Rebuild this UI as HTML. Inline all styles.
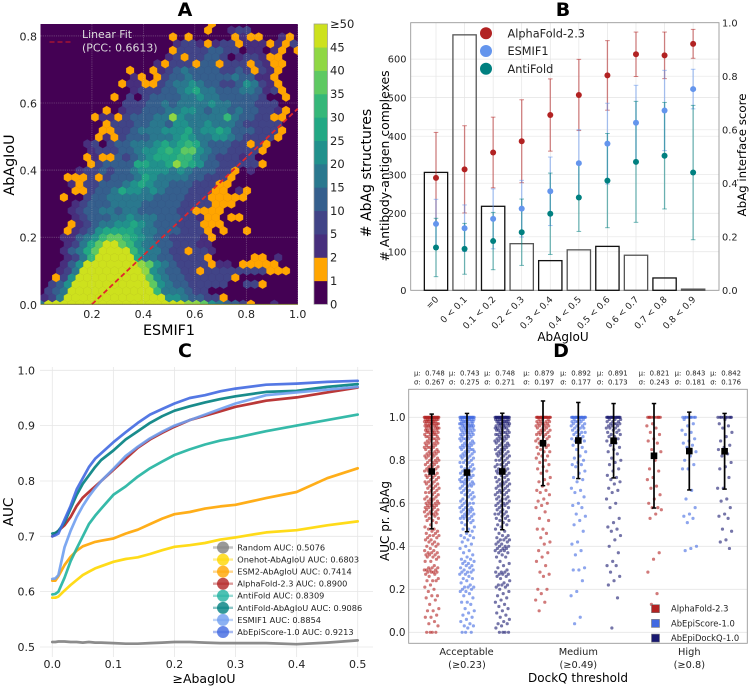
<!DOCTYPE html>
<html lang="en"><head><meta charset="utf-8"><title>Four panel AbAg chart figure</title>
<style>
html,body{margin:0;padding:0;background:#fff;}
svg{display:block;font-family:"DejaVu Sans","Liberation Sans",sans-serif;filter:blur(0.3px);}
.pre{white-space:pre;}
</style></head>
<body>
<svg id="fig" xmlns="http://www.w3.org/2000/svg" width="750" height="687" viewBox="0 0 750 687">
<defs><clipPath id="clipA"><rect x="40.5" y="24" width="257.5" height="280.3"/></clipPath></defs>
<rect x="0" y="0" width="750" height="687" fill="#fff"/>
<g id="panelA"></g>
<g id="panelB"></g>
<g id="panelC"></g>
<g id="panelD"></g>
<text x="185" y="16" font-size="19" font-weight="bold" text-anchor="middle">A</text>
<text x="563" y="16" font-size="19" font-weight="bold" text-anchor="middle">B</text>
<text x="185" y="357" font-size="19" font-weight="bold" text-anchor="middle">C</text>
<text x="561" y="357" font-size="19" font-weight="bold" text-anchor="middle">D</text>
<text x="169" y="335" font-size="14.3" text-anchor="middle">ESMIF1</text>
<text transform="translate(14,165) rotate(-90)" font-size="14.3" text-anchor="middle">AbAgIoU</text>
<text transform="translate(371,173) rotate(-90)" font-size="14" text-anchor="middle"># AbAg structures</text>
<text x="563" y="341" font-size="12" text-anchor="middle">AbAgIoU</text>
<text transform="translate(389,166) rotate(-90)" font-size="12.4" text-anchor="middle"># Antibody-antigen complexes</text>
<text transform="translate(746,155) rotate(-90)" font-size="11.8" text-anchor="middle">AbAg interface score</text>
<text x="204" y="683" font-size="12.5" text-anchor="middle">≥AbagIoU</text>
<text transform="translate(13,512) rotate(-90)" font-size="13.5" text-anchor="middle">AUC</text>
<text x="578" y="682" font-size="12" text-anchor="middle">DockQ threshold</text>
<text transform="translate(389,521) rotate(-90)" font-size="12" text-anchor="middle">AUC pr. AbAg</text>
</svg>
<script>
/* ---------- Panel A data ---------- */
const aXTicks = [0.2, 0.4, 0.6, 0.8, 1.0];
const aYTicks = [0.0, 0.2, 0.4, 0.6, 0.8];
const fitX = [0.2, 1.0];
const fitY = [0.0, 0.583];
const colorbarLabels = ['0','1','2','5','10','15','20','25','30','35','40','45','≥50'];
const colorbarEdges = [1,2,5,10,15,20,25,30,35,40,45];
const hexPalette = ['#440154','#ffa500','#472f7d','#414487','#355f8d','#2a788e','#21918c','#22a884','#35b779','#5ec962','#8fd744','#cde11d'];
/* hex counts: first row is the bottom row of the hexbin (AbAgIoU = 0) */
const hexCounts = [
[17,60,60,60,60,60,60,60,60,60,60,60,60,60,60,60,60,60,60,42,42,37,22,17,12,12,7,1,0,0,3],
[3,7,17,60,60,60,60,60,60,60,60,60,60,60,60,60,22,22,17,12,12,7,7,1],
[0,7,12,17,60,60,60,60,60,60,60,60,60,60,60,32,17,17,17,12,7,7,0,0],
[0,7,12,22,60,60,60,60,60,60,60,60,60,60,37,22,17,12,12,7,7,7,7,7,0,0,7,7,1],
[0,0,1,7,22,60,60,60,60,60,60,60,60,60,37,22,17,12,12,7,7,7,7,7,7,1,0,0],
[0,0,3,7,17,60,60,60,60,60,60,60,60,42,22,17,12,12,7,7,1,7,7,7,7,7,7,7,7,1,1,1],
[0,0,0,3,12,22,60,60,60,60,60,60,60,42,37,22,17,12,7,7,7,7,1,3,3,0,1,1,1,1,1],
[0,0,0,3,7,17,32,60,60,60,60,60,27,17,17,12,12,7,7,7,7,1,0,0,0,0,0,1,1,0,3],
[0,0,0,3,12,17,27,37,60,60,60,60,32,22,17,17,12,7,7,1,7,7,3],
[0,0,0,3,7,17,27,37,60,60,37,32,22,17,17,12,12,7,7,7,3,3],
[0,0,0,3,3,12,17,22,32,37,37,32,27,22,17,12,12,7,7,7,7,3,1],
[0,0,0,1,3,7,12,22,27,27,27,27,22,17,17,12,12,12,7,7,7,1,0,1,0,0,1],
[0,0,0,0,1,3,7,12,17,17,22,22,27,22,17,12,12,12,7,7,7,1,1,1],
[0,0,0,0,3,7,12,12,12,17,17,22,17,17,17,12,12,12,7,7,3,1,1,0,1,1],
[0,0,0,0,3,7,12,12,17,17,12,17,17,12,12,12,12,12,7,7,1,1,1,1],
[0,0,0,0,3,7,12,12,12,17,17,17,17,12,12,12,12,12,7,7,7,7,1,1,1],
[0,0,0,1,0,0,7,12,12,17,17,17,17,17,17,12,12,12,12,7,7,7,1,1,1,1,1],
[0,0,0,0,1,1,7,12,12,17,27,22,22,17,22,17,12,12,12,7,7,7,1,1,0,3,1],
[0,0,0,0,3,1,7,7,12,12,12,17,22,27,22,17,17,12,12,12,7,7,7,1,1],
[0,0,0,1,1,1,7,1,7,12,12,12,17,27,22,17,17,17,17,12,12,7,7,7,1,0],
[0,0,0,0,0,3,7,7,12,7,12,12,17,22,22,22,22,17,22,17,12,12,12,7,7,1,0,3],
[0,0,0,0,0,0,1,7,12,12,12,12,27,27,22,22,27,42,32,27,22,12,12,7,7,7,7,7,1],
[0,0,0,0,0,0,1,3,1,1,12,7,12,17,22,27,27,27,32,32,22,17,12,7,7,7,3,7],
[0,0,0,0,0,0,3,7,7,7,12,12,17,22,22,27,32,27,37,37,22,17,12,12,7,7,7,7,1],
[0,0,0,0,0,0,3,7,0,7,12,12,17,17,17,22,27,22,27,32,27,17,12,12,12,7,7,1,7,1],
[0,0,0,0,0,0,0,1,3,1,7,12,12,12,17,17,17,22,27,22,17,17,22,22,17,12,7,7,7,7,1],
[0,0,0,0,0,0,0,0,1,1,7,7,12,17,17,17,22,22,22,27,17,22,22,27,22,12,12,12,7,7,7,1],
[0,0,0,0,0,0,0,0,1,7,7,7,12,12,17,17,12,22,22,17,17,22,17,17,17,12,7,7,7,7,7],
[0,0,0,0,0,0,0,1,3,3,1,7,12,12,12,17,17,42,22,17,17,17,17,17,32,17,12,12,7,7,1,1],
[0,0,0,0,0,0,0,0,1,0,3,7,7,12,12,12,17,17,22,22,17,12,17,17,12,17,12,12,7,7,3,1],
[0,0,0,0,0,0,0,0,0,0,0,7,7,7,12,12,17,12,17,17,17,17,22,17,17,12,12,12,7,7,7],
[0,0,0,0,0,0,0,0,0,1,0,7,0,7,12,12,12,12,17,17,22,17,17,12,12,12,12,12,7,0,0,1],
[0,0,0,0,0,0,0,0,0,0,0,0,3,7,7,7,12,12,17,22,27,17,17,12,12,12,17,17,12,3,7,1],
[0,0,0,0,0,0,0,0,0,0,1,3,3,1,1,7,12,17,17,22,17,12,12,7,7,12,22,17,7,3,1],
[0,0,0,0,0,0,0,0,0,0,0,0,3,1,0,1,7,12,12,17,12,12,12,12,12,17,12,12,3,3,1],
[0,0,0,0,0,0,0,0,0,0,0,1,0,0,1,3,7,12,17,12,12,12,12,7,7,12,7,1,7,3,1],
[0,0,0,0,0,0,0,0,0,0,0,0,0,0,0,3,1,7,7,7,1,12,12,1,7,7,7,1,7,3,1,1],
[0,0,0,0,0,0,0,0,0,0,0,0,0,0,0,0,3,7,1,7,7,12,12,7,0,3,7,7,3,1,1],
[0,0,0,0,0,0,0,0,0,0,0,0,0,0,0,0,0,1,7,7,7,7,12,12,7,7,0,3,3,0,3,1,0,1],
[0,0,0,0,0,0,0,0,0,0,0,0,0,0,0,0,0,3,7,7,3,1,3,7,7,1,3,3,3,1,3,1,7],
[0,0,0,0,0,0,0,0,0,0,0,0,0,0,0,0,0,1,0,1,0,0,0,0,0,1,3,1,1,0,0,3,1],
[0,0,0,0,0,0,0,0,0,0,0,0,0,0,0,0,0,0,0,0,0,1,0,0,3,7,7],
[0,0,0,0,0,0,0,0,0,0,0,0,0,0,0,0,0,0,0,0,0,0,1]
];

/* ---------- Panel B data ---------- */
const iouBins = ['=0','0 < 0.1','0.1 < 0.2','0.2 < 0.3','0.3 < 0.4','0.4 < 0.5','0.5 < 0.6','0.6 < 0.7','0.7 < 0.8','0.8 < 0.9'];
const complexCounts = [306,663,218,121,77,105,114,91,32,3];
const afScore = [0.42,0.452,0.515,0.557,0.655,0.73,0.803,0.882,0.878,0.921];
const afErr = [0.17,0.163,0.132,0.155,0.135,0.133,0.13,0.083,0.087,0.054];
const esmScore = [0.248,0.232,0.267,0.305,0.37,0.475,0.548,0.626,0.672,0.752];
const esmErr = [0.092,0.087,0.112,0.106,0.128,0.125,0.151,0.14,0.15,0.074];
const antiScore = [0.16,0.155,0.184,0.217,0.286,0.347,0.41,0.48,0.503,0.44];
const antiErr = [0.109,0.095,0.107,0.124,0.152,0.127,0.176,0.226,0.199,0.251];
const bLeftTicks = [0,100,200,300,400,500,600];
const bRightTicks = [0.0,0.2,0.4,0.6,0.8,1.0];
const bLegendLabels = ['AlphaFold-2.3','ESMIF1','AntiFold'];

/* ---------- Panel C data ---------- */
const thresholds = [0,0.005,0.01,0.02,0.03,0.04,0.05,0.06,0.07,0.08,0.1,0.12,0.14,0.16,0.18,0.2,0.225,0.25,0.275,0.3,0.35,0.4,0.45,0.5];
const aucRandom   = [0.509,0.509,0.51,0.51,0.509,0.509,0.508,0.509,0.508,0.508,0.507,0.506,0.506,0.507,0.508,0.509,0.509,0.508,0.507,0.507,0.507,0.505,0.508,0.512];
const aucOnehot   = [0.589,0.589,0.591,0.602,0.612,0.621,0.63,0.636,0.642,0.646,0.654,0.659,0.662,0.668,0.675,0.681,0.684,0.688,0.694,0.698,0.707,0.711,0.72,0.727];
const aucEsm2     = [0.62,0.62,0.628,0.648,0.663,0.674,0.682,0.686,0.69,0.692,0.696,0.705,0.712,0.722,0.732,0.74,0.744,0.75,0.754,0.757,0.769,0.78,0.805,0.823];
const aucAlpha    = [0.70,0.705,0.71,0.72,0.735,0.755,0.77,0.78,0.79,0.80,0.82,0.84,0.86,0.875,0.887,0.898,0.91,0.918,0.926,0.934,0.945,0.951,0.96,0.969];
const aucAnti     = [0.595,0.596,0.60,0.625,0.655,0.678,0.70,0.722,0.737,0.75,0.775,0.79,0.808,0.823,0.835,0.847,0.857,0.866,0.873,0.878,0.89,0.90,0.91,0.92];
const aucAntiIou  = [0.705,0.706,0.71,0.725,0.75,0.775,0.795,0.81,0.825,0.838,0.855,0.875,0.89,0.905,0.917,0.927,0.935,0.942,0.948,0.953,0.961,0.963,0.97,0.975];
const aucEsmif    = [0.623,0.624,0.63,0.68,0.71,0.735,0.755,0.772,0.787,0.80,0.822,0.845,0.862,0.877,0.889,0.90,0.91,0.92,0.93,0.94,0.955,0.96,0.965,0.97];
const aucEpi      = [0.70,0.702,0.705,0.73,0.755,0.785,0.805,0.825,0.84,0.85,0.87,0.888,0.905,0.92,0.93,0.94,0.95,0.955,0.962,0.967,0.974,0.976,0.979,0.981];
const cLegendLabels = ['Random AUC: 0.5076','Onehot-AbAgIoU AUC: 0.6803','ESM2-AbAgIoU AUC: 0.7414','AlphaFold-2.3 AUC: 0.8900','AntiFold AUC: 0.8309','AntiFold-AbAgIoU AUC: 0.9086','ESMIF1 AUC: 0.8854','AbEpiScore-1.0 AUC: 0.9213'];
const cXTicks = [0.0,0.1,0.2,0.3,0.4,0.5];
const cYTicks = [0.5,0.6,0.7,0.8,0.9,1.0];

/* ---------- Panel D data ---------- */
const dMeans = [0.748,0.743,0.748,0.879,0.892,0.891,0.821,0.843,0.842];
const dSigmas = [0.267,0.275,0.271,0.197,0.177,0.173,0.243,0.181,0.176];
const dYTicks = [0.0,0.2,0.4,0.6,0.8,1.0];
const dGroups = [['Acceptable','(≥0.23)'],['Medium','(≥0.49)'],['High','(≥0.8)']];
const dLegendLabels = ['AlphaFold-2.3','AbEpiScore-1.0','AbEpiDockQ-1.0'];
const ptsAfAcc = [1,1,1,1,1,1,1,1,1,1,1,1,1,1,1,1,1,1,1,1,1,1,.99,.99,.99,.99,.99,.99,.99,.99,.98,.98,.98,.98,.98,.98,.98,.97,.97,.97,.97,.97,.97,.97,.96,.96,.96,.96,.96,.96,.95,.95,.95,.95,.95,.95,.94,.94,.94,.94,.94,.93,.93,.93,.93,.93,.92,.92,.92,.92,.91,.91,.91,.91,.9,.9,.9,.9,.89,.89,.89,.88,.88,.88,.88,.87,.87,.87,.86,.86,.86,.86,.85,.85,.85,.84,.84,.84,.83,.83,.83,.83,.82,.82,.82,.81,.81,.81,.8,.8,.8,.79,.79,.79,.78,.78,.78,.77,.77,.77,.76,.76,.76,.75,.75,.75,.74,.74,.73,.73,.73,.72,.72,.72,.71,.71,.7,.7,.7,.69,.69,.69,.68,.68,.67,.67,.67,.66,.66,.65,.65,.65,.64,.64,.63,.63,.62,.62,.62,.61,.61,.61,.6,.6,.6,.6,.59,.59,.59,.59,.58,.58,.58,.57,.57,.57,.56,.56,.56,.55,.55,.55,.55,.54,.54,.53,.53,.52,.52,.51,.5,.49,.48,.48,.47,.47,.46,.46,.45,.45,.45,.44,.44,.43,.43,.42,.42,.41,.41,.4,.4,.39,.38,.38,.37,.37,.37,.36,.36,.36,.35,.35,.35,.34,.33,.33,.31,.3,.3,.3,.29,.29,.29,.29,.28,.28,.28,.28,.27,.27,.26,.25,.24,.24,.24,.22,.21,.2,.19,.17,.17,.16,.15,.13,.11,.1,.1,.08,.07,.07,.05,.04,.03,0,0,0,0];
const ptsEpiAcc = [1,1,1,1,1,1,1,1,1,1,1,1,1,1,1,1,1,1,1,1,1,1,.99,.99,.99,.99,.99,.99,.99,.98,.98,.98,.98,.98,.98,.97,.97,.97,.97,.97,.97,.96,.96,.96,.96,.96,.96,.95,.95,.95,.95,.95,.94,.94,.94,.94,.94,.93,.93,.93,.93,.92,.92,.92,.92,.91,.91,.91,.9,.9,.9,.9,.89,.89,.89,.88,.88,.88,.87,.87,.87,.87,.86,.86,.86,.85,.85,.85,.85,.84,.84,.84,.83,.83,.83,.82,.82,.82,.81,.81,.81,.8,.8,.79,.79,.79,.78,.78,.77,.77,.76,.76,.76,.75,.75,.74,.74,.73,.73,.73,.72,.72,.72,.71,.71,.71,.7,.7,.7,.7,.69,.69,.69,.68,.68,.68,.67,.67,.66,.66,.65,.65,.65,.64,.64,.63,.63,.62,.62,.61,.61,.6,.6,.6,.59,.59,.58,.58,.58,.57,.57,.57,.56,.56,.56,.55,.55,.55,.54,.54,.54,.53,.53,.53,.52,.52,.51,.51,.5,.49,.48,.48,.47,.46,.45,.45,.44,.44,.43,.42,.41,.4,.39,.38,.37,.36,.35,.34,.34,.33,.33,.32,.32,.31,.31,.3,.3,.29,.29,.28,.28,.28,.27,.27,.26,.25,.25,.24,.23,.22,.21,.21,.21,.2,.2,.19,.19,.18,.17,.16,.14,.14,.13,.11,.1,.09,.08,.07,.06,.05,.04,.03,.03,.02,0,0,0];
const ptsDockAcc = [1,1,1,1,1,1,1,1,1,1,1,1,1,1,1,1,1,1,1,1,1,1,.99,.99,.99,.99,.99,.99,.99,.98,.98,.98,.98,.98,.98,.97,.97,.97,.97,.97,.97,.96,.96,.96,.96,.96,.95,.95,.95,.95,.95,.94,.94,.94,.94,.93,.93,.93,.93,.92,.92,.92,.92,.91,.91,.91,.9,.9,.9,.9,.89,.89,.89,.88,.88,.88,.87,.87,.87,.86,.86,.86,.85,.85,.85,.84,.84,.84,.83,.83,.83,.82,.82,.82,.81,.81,.8,.8,.8,.79,.79,.78,.78,.78,.77,.77,.76,.76,.76,.75,.75,.75,.74,.74,.74,.73,.73,.72,.72,.71,.71,.7,.7,.7,.69,.69,.69,.68,.68,.68,.67,.67,.66,.66,.66,.65,.65,.65,.64,.64,.63,.63,.62,.62,.62,.61,.61,.6,.6,.6,.59,.59,.59,.58,.58,.57,.57,.56,.56,.55,.55,.55,.54,.54,.53,.53,.52,.52,.51,.5,.5,.49,.48,.47,.46,.45,.45,.44,.44,.43,.43,.43,.42,.42,.41,.41,.4,.4,.4,.39,.39,.39,.38,.38,.38,.37,.37,.36,.35,.35,.33,.32,.31,.3,.29,.28,.28,.28,.27,.27,.27,.26,.26,.25,.24,.23,.22,.22,.22,.21,.21,.2,.19,.18,.17,.16,.15,.14,.13,.12,.11,.1,.09,.08,.07,.06,.05,.04,.04,.03,.02,0,0,0,0];
const ptsAfMed = [1,1,1,1,1,1,1,1,1,1,1,1,1,1,1,1,1,1,.99,.99,.99,.98,.98,.98,.98,.97,.97,.97,.97,.96,.96,.96,.96,.95,.95,.95,.94,.94,.94,.93,.93,.93,.92,.92,.92,.91,.91,.9,.9,.89,.89,.88,.88,.87,.87,.86,.86,.85,.84,.84,.83,.82,.82,.81,.8,.79,.78,.77,.76,.75,.74,.72,.71,.7,.69,.68,.66,.66,.65,.64,.62,.61,.6,.59,.58,.56,.53,.52,.48,.48,.46,.44,.42,.41,.38,.37,.35,.33,.31,.28,.27,.26,.2,.2,.18,.15,.14,.1];
const ptsEpiMed = [1,1,1,1,1,1,1,1,1,1,1,1,1,1,1,1,1,1,.99,.99,.99,.98,.98,.98,.98,.97,.97,.97,.96,.96,.96,.95,.95,.95,.94,.94,.93,.93,.93,.92,.92,.91,.91,.9,.9,.89,.89,.88,.87,.86,.85,.84,.82,.81,.8,.79,.78,.78,.77,.75,.74,.72,.71,.7,.67,.66,.65,.63,.6,.59,.58,.55,.54,.52,.5,.47,.42,.41,.38,.36,.3,.29,.29,.24,.19,.17,.07,.04];
const ptsDockMed = [1,1,1,1,1,1,1,1,1,1,1,1,1,1,1,1,1,1,.99,.99,.99,.98,.98,.98,.97,.97,.97,.97,.96,.96,.96,.95,.95,.95,.94,.94,.93,.93,.92,.92,.91,.91,.9,.9,.89,.88,.87,.86,.85,.84,.83,.81,.8,.79,.78,.76,.75,.73,.72,.71,.7,.69,.67,.66,.65,.62,.6,.58,.53,.51,.49,.48,.47,.45,.43,.4,.37,.33,.31,.31,.28,.26,.24,.22,.16,.02];
const ptsAfHigh = [1,1,1,1,1,1,1,1,1,1,.97,.96,.95,.93,.92,.9,.89,.88,.85,.84,.8,.76,.75,.72,.71,.68,.67,.64,.62,.6,.58,.58,.57,.55,.53,.37,.34,.28,.18,.13];
const ptsEpiHigh = [1,1,1,1,1,1,1,1,1,.99,.97,.96,.94,.93,.92,.9,.89,.88,.87,.86,.84,.82,.8,.78,.76,.76,.66,.62,.58,.55,.54,.53,.51,.4,.39,.38];
const ptsDockHigh = [1,1,1,1,1,1,1,1,1,.99,.97,.96,.95,.93,.91,.89,.87,.86,.85,.83,.82,.79,.77,.76,.72,.67,.67,.62,.61,.58,.55,.54,.53,.48,.47,.43,.42,.39];

/* ---------- helpers ---------- */
const NS = 'http://www.w3.org/2000/svg';
function make(tag, attrs, parent, text) {
  const n = document.createElementNS(NS, tag);
  for (const k in attrs) n.setAttribute(k, attrs[k]);
  if (text !== undefined) n.textContent = text;
  parent.appendChild(n);
  return n;
}
const TC = '#222';

/* ---------- Panel A ---------- */
(function () {
  const g = document.getElementById('panelA');
  const xA = v => 40.5 + v * 257.2;
  const yA = v => 304.3 - v * 335.5;
  const hexStepX = 0.0303, hexStepY = 0.01992;
  const hw = hexStepX * 257.2 / 2, R = hexStepY * 335.5 / 1.5;
  const colorOf = c => { if (c < 1) return hexPalette[0]; for (let i = 0; i < colorbarEdges.length; i++) { if (c < colorbarEdges[i]) return hexPalette[i]; } return hexPalette[11]; };
  const bg = make('rect', {x:40.5,y:24,width:257.5,height:280.3,fill:hexPalette[0]}, g);
  
  
  const hexes = make('g', {'clip-path':'url(#clipA)'}, g);
  
  
  hexCounts.forEach((row, j) => {
    row.forEach((c, i) => {
      if (c < 1) return;
      const cx = xA((i + (j % 2 ? 0.5 : 0)) * hexStepX), cy = yA(j * hexStepY);
      const pts = [[0,-R],[hw,-R/2],[hw,R/2],[0,R],[-hw,R/2],[-hw,-R/2]].map(p => (cx+p[0]).toFixed(1)+','+(cy+p[1]).toFixed(1)).join(' ');
      const col = colorOf(c);
      const h = make('polygon', {points:pts,fill:col,stroke:col,'stroke-width':0.25}, hexes);
      
      
    });
  });
  aXTicks.forEach(v => {
    const l = make('line', {x1:xA(v),x2:xA(v),y1:24,y2:304.3,stroke:'#c8c8c8','stroke-opacity':0.5,'stroke-width':0.6,'stroke-dasharray':'1.2 1'}, g);
    
    
    const t = make('text', {x:xA(v),y:318,'font-size':11,'text-anchor':'middle',fill:TC}, g, v.toFixed(1));
    
    
  });
  aYTicks.forEach(v => {
    const l = make('line', {x1:40.5,x2:298,y1:yA(v),y2:yA(v),stroke:'#c8c8c8','stroke-opacity':0.5,'stroke-width':0.6,'stroke-dasharray':'1.2 1'}, g);
    
    
    const t = make('text', {x:37,y:yA(v)+4.5,'font-size':11,'text-anchor':'end',fill:TC}, g, v.toFixed(1));
    
    
  });
  const fit = make('line', {x1:xA(fitX[0]),y1:yA(fitY[0]),x2:xA(fitX[1]),y2:yA(fitY[1]),stroke:'#e0262c','stroke-width':1.8,'stroke-dasharray':'5 3'}, g);
  
  
  const base = make('line', {x1:40.5,x2:298,y1:304.3,y2:304.3,stroke:'#6b6b1e','stroke-width':0.8}, g);
  
  
  const key = make('line', {x1:49.5,x2:72.5,y1:42,y2:42,stroke:'#b8182c','stroke-width':1.3,'stroke-dasharray':'5 3'}, g);
  
  
  const t1 = make('text', {x:82,y:38,'font-size':10.9,fill:'#dcdcdc'}, g, 'Linear Fit');
  
  
  const t2 = make('text', {x:82,y:51.5,'font-size':10.9,fill:'#dcdcdc'}, g, '(PCC: 0.6613)');
  
  
  const segH = 280.3 / (colorbarLabels.length - 1);
  colorbarLabels.forEach((lab, i) => {
    const yy = 304.3 - i * segH;
    if (i < colorbarLabels.length - 1) {
      const s = make('rect', {x:314,y:yy-segH-0.2,width:13.5,height:segH+0.4,fill:hexPalette[i]}, g);
      
      
    }
    const t = make('text', {x:330,y:yy+4,'font-size':11.5,fill:TC}, g, lab);
    
    
  });
  const cbf = make('rect', {x:314,y:24,width:13.5,height:280.3,fill:'none',stroke:'#999','stroke-width':0.7}, g);
  
  
})();

/* ---------- Panel B ---------- */
(function () {
  const g = document.getElementById('panelB');
  const L = 410.7, Rr = 719, T = 22.7, B = 290.3;
  const xB = i => 436 + 28.57 * i;
  const yL = v => B - v * 0.3853;
  const yR = v => B - v * 267.6;
  iouBins.forEach((b, i) => {
    const l = make('line', {x1:xB(i),x2:xB(i),y1:T,y2:B,stroke:'#e4e4e4','stroke-width':0.7}, g);
    
    
  });
  bLeftTicks.forEach(v => {
    const l = make('line', {x1:L,x2:Rr,y1:yL(v),y2:yL(v),stroke:'#e4e4e4','stroke-width':0.7}, g);
    
    
    const t = make('text', {x:406.5,y:yL(v)+3.6,'font-size':9.8,'text-anchor':'end',fill:TC}, g, String(v));
    
    
  });
  bRightTicks.forEach(v => {
    const l = make('line', {x1:L,x2:Rr,y1:yR(v),y2:yR(v),stroke:'#e9e9e9','stroke-width':0.7}, g);
    
    
    const t = make('text', {x:722,y:yR(v)+3.6,'font-size':9.8,fill:TC}, g, v.toFixed(1));
    
    
  });
  const frame = make('rect', {x:L,y:T,width:Rr-L,height:B-T,fill:'none',stroke:'#999','stroke-width':0.9}, g);
  
  
  complexCounts.forEach((v, i) => {
    const r = make('rect', {x:xB(i)-11.65,y:yL(v),width:23.3,height:B-yL(v),fill:'none',stroke:i % 2 ? '#555' : '#111','stroke-width':1.3}, g);
    
    
    const t = make('text', {transform:'translate('+(xB(i)+3)+',300) rotate(-45)','font-size':9,'text-anchor':'end',fill:TC}, g, iouBins[i]);
    
    
  });
  const series = [[afScore,afErr,'#b22222',0],[esmScore,esmErr,'#6495ed',0],[antiScore,antiErr,'#008080',0]];
  series.forEach(s => {
    s[0].forEach((m, i) => {
      const x = xB(i), hi = yR(m + s[1][i]), lo = yR(m - s[1][i]);
      const bar = make('line', {x1:x,x2:x,y1:hi,y2:lo,stroke:s[2],'stroke-opacity':0.55,'stroke-width':1.3}, g);
      
      
      [hi, lo].forEach(yy => {
        const c = make('line', {x1:x-2.3,x2:x+2.3,y1:yy,y2:yy,stroke:s[2],'stroke-opacity':0.55,'stroke-width':1}, g);
        
        
      });
    });
  });
  series.forEach(s => {
    s[0].forEach((m, i) => {
      const d = make('circle', {cx:xB(i),cy:yR(m),r:3,fill:s[2]}, g);
      
      
    });
  });
  bLegendLabels.forEach((lab, i) => {
    const yy = 33.3 + i * 17.7;
    const d = make('circle', {cx:486,cy:yy,r:6,fill:series[i][2]}, g);
    
    
    const t = make('text', {x:507.5,y:yy+4.2,'font-size':11.3,fill:TC}, g, lab);
    
    
  });
})();

/* ---------- Panel C ---------- */
(function () {
  const g = document.getElementById('panelC');
  const xC = v => 52.3 + v * 610.8;
  const yC = v => 647 - (v - 0.5) * 553.4;
  cXTicks.forEach(v => {
    const l = make('line', {x1:xC(v),x2:xC(v),y1:367,y2:657,stroke:'#e6e6e6','stroke-width':0.8}, g);
    
    
    const t = make('text', {x:xC(v),y:668,'font-size':11,'text-anchor':'middle',fill:TC}, g, v.toFixed(1));
    
    
  });
  cYTicks.forEach(v => {
    const l = make('line', {x1:40,x2:373,y1:yC(v),y2:yC(v),stroke:'#e6e6e6','stroke-width':0.8}, g);
    
    
    const t = make('text', {x:35,y:yC(v)+4,'font-size':11,'text-anchor':'end',fill:TC}, g, v.toFixed(1));
    
    
  });
  const curves = [[aucRandom,'#808080'],[aucOnehot,'#ffd700'],[aucEsm2,'#ffa500'],[aucAlpha,'#b22222'],[aucAnti,'#20b2a0'],[aucAntiIou,'#008080'],[aucEsmif,'#6f9ef0'],[aucEpi,'#4169e1']];
  curves.forEach(c => {
    const pts = thresholds.map((t, i) => xC(t).toFixed(1) + ',' + yC(c[0][i]).toFixed(1)).join(' ');
    const p = make('polyline', {points:pts,fill:'none',stroke:c[1],'stroke-width':2.7,'stroke-opacity':0.9,'stroke-linejoin':'round','stroke-linecap':'round'}, g);
    
    
  });
  cLegendLabels.forEach((lab, i) => {
    const yy = 547.5 + i * 12.07;
    const l = make('line', {x1:213,x2:233,y1:yy,y2:yy,stroke:curves[i][1],'stroke-opacity':0.45,'stroke-width':2.4}, g);
    
    
    const d = make('circle', {cx:223,cy:yy,r:6,fill:curves[i][1],'fill-opacity':0.8}, g);
    
    
    const t = make('text', {x:237.3,y:yy+2.9,'font-size':8.2,fill:TC}, g, lab);
    
    
  });
})();

/* ---------- Panel D ---------- */
(function () {
  const g = document.getElementById('panelD');
  const L = 408.7, Rr = 747.3, T = 389.3, B = 643.3;
  const yD = v => 632.3 - v * 215;
  const groupStart = [431.7, 543, 654];
  const xD = k => groupStart[Math.floor(k / 3)] + (k % 3) * 35.3;
  const statShift = [-2.3,-2.7,-2.7,-4.3,-2.7,-1.3,0,0.7,1];
  const colours = ['#b22222','#4169e1','#191970'];
  const strips = [ptsAfAcc,ptsEpiAcc,ptsDockAcc,ptsAfMed,ptsEpiMed,ptsDockMed,ptsAfHigh,ptsEpiHigh,ptsDockHigh];
  dYTicks.forEach(v => {
    const l = make('line', {x1:L,x2:Rr,y1:yD(v),y2:yD(v),stroke:'#e6e6e6','stroke-width':0.8}, g);
    
    
    const t = make('text', {x:405.5,y:yD(v)+3.8,'font-size':10.4,'text-anchor':'end',fill:TC}, g, v.toFixed(1));
    
    
  });
  const frame = make('rect', {x:L,y:T,width:Rr-L,height:B-T,fill:'none',stroke:'#999','stroke-width':0.9}, g);
  
  
  strips.forEach((vals, k) => {
    const col = colours[k % 3];
    vals.forEach((v, i) => {
      const jitter = ((i * 0.6180339 + k * 0.37) % 1) * 2 - 1;
      const d = make('circle', {cx:xD(k)+jitter*7.4,cy:yD(v),r:1.6,fill:col,'fill-opacity':0.6}, g);
      
      
    });
  });
  dMeans.forEach((m, k) => {
    const x = xD(k), hi = yD(m + dSigmas[k]), lo = yD(m - dSigmas[k]);
    const bar = make('line', {x1:x,x2:x,y1:hi,y2:lo,stroke:'#000','stroke-width':1.7}, g);
    
    
    [hi, lo].forEach(yy => {
      const c = make('line', {x1:x-2.2,x2:x+2.2,y1:yy,y2:yy,stroke:'#000','stroke-width':1.5}, g);
      
      
    });
    const s = make('rect', {x:x-3.3,y:yD(m)-3.3,width:6.6,height:6.6,fill:'#000'}, g);
    
    
    const t1 = make('text', {x:x+statShift[k],y:375.4,'font-size':6.9,'text-anchor':'middle',fill:TC,class:'pre'}, g, 'μ:  ' + m.toFixed(3));
    
    
    const t2 = make('text', {x:x+statShift[k],y:384.4,'font-size':6.9,'text-anchor':'middle',fill:TC,class:'pre'}, g, 'σ:  ' + dSigmas[k].toFixed(3));
    
    
  });
  dGroups.forEach((gr, i) => {
    const cx = xD(i * 3 + 1);
    const t1 = make('text', {x:i === 0 ? cx - 0.5 : cx,y:655,'font-size':9.8,'text-anchor':'middle',fill:TC}, g, gr[0]);
    
    
    const t2 = make('text', {x:cx,y:668,'font-size':9.8,'text-anchor':'middle',fill:TC}, g, gr[1]);
    
    
  });
  dLegendLabels.forEach((lab, i) => {
    const yy = 608.7 + i * 14.7;
    const s = make('rect', {x:651.5,y:yy-4,width:8,height:8,fill:colours[i],stroke:'#777','stroke-width':0.6}, g);
    
    
    const t = make('text', {x:671,y:yy+3,'font-size':8.4,fill:TC}, g, lab);
    
    
  });
})();
</script>
</body></html>
